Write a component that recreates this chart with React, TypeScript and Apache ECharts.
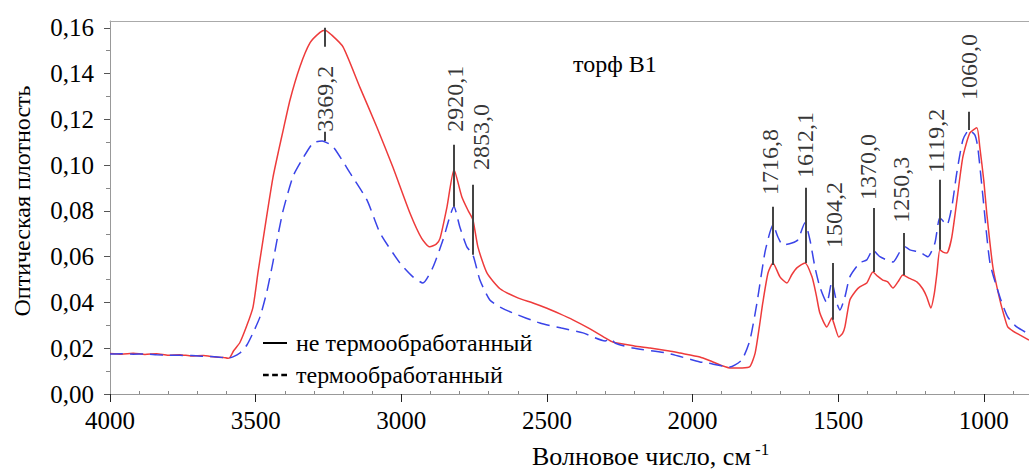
import React, { useEffect, useRef } from 'react';
import * as echarts from 'echarts';

const xTicks = [4000, 3500, 3000, 2500, 2000, 1500, 1000];
const xMinorTicks = [3900, 3800, 3700, 3600, 3400, 3300, 3200, 3100, 2900, 2800, 2700, 2600, 2400, 2300, 2200, 2100, 1900, 1800, 1700, 1600, 1400, 1300, 1200, 1100, 900];
const yTicks = [0, 0.02, 0.04, 0.06, 0.08, 0.1, 0.12, 0.14, 0.16];
const yMinorTicks = [0.01, 0.03, 0.05, 0.07, 0.09, 0.11, 0.13, 0.15];

const seriesNames = ['не термообработанный', 'термообработанный'];

const untreated: [number, number][] = [
  [4000, 0.0177], [3960, 0.0174], [3920, 0.0178], [3880, 0.0173], [3840, 0.0176], [3800, 0.0169],
  [3760, 0.0172], [3720, 0.0166], [3680, 0.0168], [3640, 0.0162], [3610, 0.016], [3595, 0.0156],
  [3588, 0.016], [3575, 0.019], [3554, 0.0225], [3530, 0.03], [3509, 0.038], [3492, 0.053],
  [3475, 0.067], [3458, 0.081], [3440, 0.095], [3420, 0.107], [3406, 0.115], [3382, 0.1285], [3348, 0.143],
  [3313, 0.1535], [3279, 0.158], [3262, 0.159], [3240, 0.157], [3200, 0.1517], [3142, 0.134],
  [3084, 0.1167], [3029, 0.0992], [2970, 0.079], [2930, 0.068], [2902, 0.0643], [2880, 0.0655],
  [2867, 0.068], [2843, 0.0818], [2819, 0.098], [2792, 0.0861], [2770, 0.08], [2754, 0.0761],
  [2737, 0.0643], [2706, 0.0529], [2661, 0.046], [2600, 0.042], [2548, 0.0398], [2500, 0.0375],
  [2455, 0.035], [2411, 0.0324], [2360, 0.029], [2300, 0.0245], [2274, 0.0227], [2200, 0.021],
  [2146, 0.0201], [2080, 0.0188], [2043, 0.0179], [1975, 0.0162], [1930, 0.014], [1872, 0.0114],
  [1830, 0.0114], [1803, 0.012], [1785, 0.018], [1770, 0.03], [1759, 0.0398], [1741, 0.0529],
  [1724, 0.0573], [1700, 0.0512], [1676, 0.0485], [1660, 0.052], [1642, 0.0551], [1614, 0.0573],
  [1590, 0.0512], [1575, 0.043], [1563, 0.0354], [1539, 0.0293], [1522, 0.0332], [1511, 0.0293],
  [1498, 0.0249], [1485, 0.0265], [1477, 0.0293], [1460, 0.0411], [1440, 0.045], [1426, 0.0468],
  [1402, 0.0485], [1381, 0.0533], [1365, 0.0515], [1347, 0.0498], [1330, 0.049], [1312, 0.0463],
  [1295, 0.049], [1278, 0.052], [1255, 0.0505], [1230, 0.049], [1210, 0.046], [1196, 0.0424],
  [1182, 0.0376], [1170, 0.044], [1161, 0.0529], [1151, 0.063], [1140, 0.062], [1127, 0.0616],
  [1110, 0.0686], [1090, 0.087], [1072, 0.1036], [1048, 0.1141], [1024, 0.1163], [1014, 0.108],
  [1000, 0.093], [990, 0.079], [969, 0.0555], [945, 0.0411], [930, 0.034], [918, 0.0293],
  [900, 0.0275], [877, 0.0258], [845, 0.0236]
];

const treated: [number, number][] = [
  [4000, 0.0175], [3960, 0.0176], [3920, 0.0174], [3880, 0.0175], [3840, 0.0172], [3800, 0.017],
  [3760, 0.0169], [3720, 0.0168], [3680, 0.0165], [3640, 0.0163], [3610, 0.0159], [3595, 0.0157],
  [3578, 0.0162], [3554, 0.0179], [3530, 0.0214], [3509, 0.0267], [3485, 0.0337], [3461, 0.045],
  [3440, 0.058], [3427, 0.067], [3406, 0.08], [3372, 0.095], [3341, 0.1023], [3303, 0.1097],
  [3272, 0.1106], [3234, 0.108], [3176, 0.0966], [3118, 0.0848], [3073, 0.0704], [3005, 0.0573],
  [2960, 0.0512], [2926, 0.0485], [2891, 0.0555], [2857, 0.0673], [2819, 0.0818], [2799, 0.073],
  [2775, 0.0643], [2754, 0.0608], [2730, 0.0498], [2696, 0.0411], [2661, 0.038], [2617, 0.0354],
  [2524, 0.031], [2450, 0.0288], [2376, 0.0267], [2300, 0.0232], [2282, 0.0243], [2265, 0.0222],
  [2205, 0.0201], [2088, 0.0179], [1975, 0.014], [1951, 0.0136], [1872, 0.0118], [1831, 0.0149],
  [1803, 0.0236], [1779, 0.0398], [1752, 0.0616], [1735, 0.0704], [1724, 0.0739], [1707, 0.0686],
  [1690, 0.0651], [1659, 0.066], [1639, 0.0673], [1614, 0.0748], [1597, 0.0673], [1580, 0.0555],
  [1563, 0.0468], [1539, 0.0398], [1522, 0.049], [1505, 0.0398], [1494, 0.0367], [1477, 0.0424],
  [1460, 0.0512], [1426, 0.0573], [1402, 0.0586], [1381, 0.063], [1357, 0.06], [1312, 0.0577],
  [1289, 0.062], [1271, 0.0643], [1254, 0.063], [1220, 0.062], [1192, 0.06], [1168, 0.066],
  [1151, 0.077], [1127, 0.0739], [1110, 0.0818], [1093, 0.0966], [1072, 0.111], [1051, 0.1154],
  [1031, 0.1132], [1021, 0.108], [1003, 0.0861], [979, 0.0573], [945, 0.0424], [918, 0.0337],
  [887, 0.0293], [845, 0.0262]
];

const peakLabels = ['3369,2', '2920,1', '2853,0', '1716,8', '1612,1', '1504,2', '1370,0', '1250,3', '1119,2', '1060,0'];
const peakTextX = [3262, 2816, 2727, 1735, 1614, 1515, 1398, 1285, 1165, 1051];
const peakTextY = [0.1146, 0.1146, 0.0979, 0.087, 0.0944, 0.0638, 0.0848, 0.0748, 0.0966, 0.1285];
const peakLineX = [3262, 3262, 2819, 2754, 1724, 1611, 1518, 1378, 1275, 1151, 1051];
const peakLineFrom = [0.1106, 0.1517, 0.0818, 0.0608, 0.0564, 0.0573, 0.0324, 0.0533, 0.052, 0.063, 0.1154];
const peakLineTo = [0.1146, 0.16, 0.1089, 0.0914, 0.0818, 0.0901, 0.0573, 0.0813, 0.0704, 0.0936, 0.1233];

const FONT = 'Times New Roman, Liberation Serif, DejaVu Serif, serif';

export default function App() {
  const ref = useRef<HTMLDivElement>(null);
  useEffect(() => {
    if (!ref.current) return;
    const chart = echarts.init(ref.current, undefined, { renderer: 'svg' });
    const xMin = 845;
    const xMax = 4000;
    const yMax = 0.163;
    chart.setOption({
      animation: false,
      backgroundColor: '#fff',
      textStyle: { fontFamily: FONT },
      grid: { left: 110, right: 0, top: 21, bottom: 76 },
      legend: {
        orient: 'vertical',
        left: 258,
        top: 326,
        itemWidth: 24,
        itemHeight: 14,
        itemGap: 8,
        textStyle: { fontFamily: FONT, fontSize: 24, color: '#000', padding: [0, 0, 0, 4] },
        data: [
          { name: seriesNames[0], icon: 'path://M0,0L24,0L24,2L0,2Z', itemStyle: { color: '#000' } },
          { name: seriesNames[1], icon: 'path://M0,0L5,0L5,2L0,2ZM8,0L13,0L13,2L8,2ZM16,0L21,0L21,2L16,2Z', itemStyle: { color: '#000' } }
        ]
      },
      xAxis: [
        {
          type: 'value', inverse: true, min: xMin, max: xMax, position: 'bottom',
          axisLine: { show: true, lineStyle: { color: '#999', width: 1 } },
          axisTick: { show: true, customValues: xTicks, length: 8, lineStyle: { color: '#222', width: 1 } },
          axisLabel: { customValues: xTicks, fontFamily: FONT, fontSize: 25, color: '#000', margin: 14, formatter: (v: number) => String(v) },
          splitLine: { show: false }
        },
        {
          type: 'value', inverse: true, min: xMin, max: xMax, position: 'bottom',
          axisLine: { show: false },
          axisTick: { show: true, inside: true, customValues: xMinorTicks, length: 3, lineStyle: { color: '#888' } },
          axisLabel: { show: false },
          splitLine: { show: false }
        },
        {
          type: 'value', inverse: true, min: xMin, max: xMax, position: 'top',
          axisLine: { show: true, lineStyle: { color: '#aaa', width: 1 } },
          axisTick: { show: false }, axisLabel: { show: false }, splitLine: { show: false }
        }
      ],
      yAxis: [
        {
          type: 'value', min: 0, max: yMax, position: 'left',
          axisLine: { show: true, lineStyle: { color: '#999', width: 1 } },
          axisTick: { show: true, customValues: yTicks, length: 6, lineStyle: { color: '#555' } },
          axisLabel: { customValues: yTicks, fontFamily: FONT, fontSize: 25, color: '#000', margin: 16, formatter: (v: number) => v.toFixed(2).replace('.', ',') },
          splitLine: { show: false }
        },
        {
          type: 'value', min: 0, max: yMax, position: 'left',
          axisLine: { show: false },
          axisTick: { show: true, customValues: yMinorTicks, length: 4, lineStyle: { color: '#888' } },
          axisLabel: { show: false },
          splitLine: { show: false }
        }
      ],
      series: [
        {
          name: seriesNames[0], type: 'line', data: untreated, symbol: 'none', smooth: 0.2,
          lineStyle: { color: '#ee3b3b', width: 1.5 }, itemStyle: { color: '#ee3b3b' }, z: 2
        },
        {
          name: seriesNames[1], type: 'line', data: treated, symbol: 'none', smooth: 0.2,
          lineStyle: { color: '#3a44e8', width: 1.5, type: [13, 7] }, itemStyle: { color: '#3a44e8' }, z: 3
        },
        {
          name: 'peaks', type: 'scatter', symbolSize: 1, silent: true,
          itemStyle: { color: 'rgba(0,0,0,0)' },
          data: peakLabels.map((l, i) => [peakTextX[i], peakTextY[i], l]),
          label: {
            show: true, position: 'inside', rotate: 90, align: 'left', verticalAlign: 'middle',
            fontFamily: FONT, fontSize: 24, color: '#000',
            formatter: (p: any) => p.data[2]
          },
          markLine: {
            silent: true, symbol: ['none', 'none'], label: { show: false },
            lineStyle: { color: '#444', width: 2, type: 'solid' },
            data: peakLineX.map((x, i) => [{ coord: [x, peakLineFrom[i]] }, { coord: [x, peakLineTo[i]] }])
          },
          z: 4
        }
      ],
      graphic: [
        { type: 'text', x: 573, y: 64, style: { text: 'торф В1', fontFamily: FONT, fontSize: 24, fill: '#000', verticalAlign: 'middle' } },
        { type: 'text', x: 22, y: 201, rotation: Math.PI / 2, style: { text: 'Оптическая плотность', fontFamily: FONT, fontSize: 24, fill: '#000', align: 'center', verticalAlign: 'middle' } },
        {
          type: 'text', x: 532, y: 455,
          style: {
            text: '{a|Волновое число, см}{b| -1}',
            fontFamily: FONT, fill: '#000', verticalAlign: 'middle',
            rich: {
              a: { fontFamily: FONT, fontSize: 26, lineHeight: 28, verticalAlign: 'bottom' },
              b: { fontFamily: FONT, fontSize: 17, lineHeight: 17, verticalAlign: 'top' }
            }
          }
        }
      ]
    });
    return () => chart.dispose();
  }, []);
  return (
    <div style={{ position: 'fixed', left: 0, top: 0, width: 1029, height: 470, overflow: 'hidden', background: '#fff' }}>
      <div ref={ref} style={{ width: 1029, height: 470 }} />
    </div>
  );
}
